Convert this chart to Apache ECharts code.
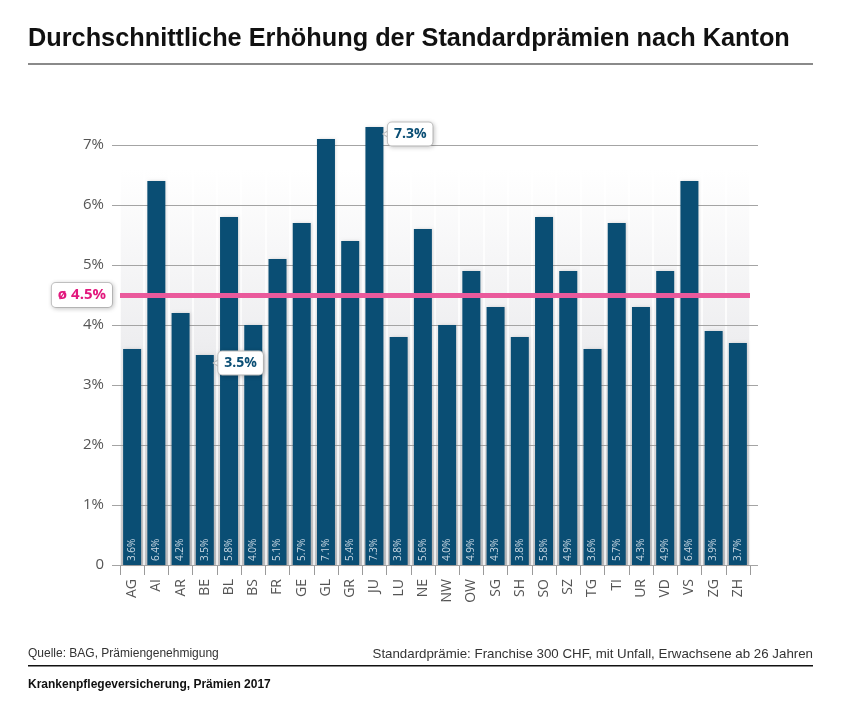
<!DOCTYPE html>
<html><head><meta charset="utf-8">
<script src="https://cdn.jsdelivr.net/npm/echarts@6/dist/echarts.min.js"></script>
<style>html,body{margin:0;padding:0;background:#fff}#c{width:844px;height:702px}</style>
</head><body><div id="c"></div>
<script>
const cantons = ['AG','AI','AR','BE','BL','BS','FR','GE','GL','GR','JU','LU','NE','NW','OW','SG','SH','SO','SZ','TG','TI','UR','VD','VS','ZG','ZH'];
const increase = [3.6,6.4,4.2,3.5,5.8,4.0,5.1,5.7,7.1,5.4,7.3,3.8,5.6,4.0,4.9,4.3,3.8,5.8,4.9,3.6,5.7,4.3,4.9,6.4,3.9,3.7];
const averageIncrease = 4.5;
const yMin = 0, yMax = 7, yStep = 1;
const barAxisMax = 7.5;

const titleText = 'Durchschnittliche Erhöhung der Standardprämien nach Kanton';
const sourceText = 'Quelle: BAG, Prämiengenehmigung';
const noteText = 'Standardprämie: Franchise 300 CHF, mit Unfall, Erwachsene ab 26 Jahren';
const footerText = 'Krankenpflegeversicherung, Prämien 2017';

const barColor = '#0a4e74';
const pink = '#ea5a9c';
const pinkText = '#e2187d';
const boxStyle = {
  backgroundColor: '#fff', borderColor: '#c8c8c8', borderWidth: 1, borderRadius: 4,
  padding: [5, 6, 4, 6], shadowBlur: 4, shadowColor: 'rgba(0,0,0,0.18)', shadowOffsetX: 1, shadowOffsetY: 1
};
const pct = v => v.toFixed(1) + '%';
const pointer = (type, dy) => ({type: type, symbol: 'triangle', symbolRotate: 90, symbolSize: [9, 7], symbolOffset: [12, dy],
  itemStyle: {color: '#fff', borderColor: '#c0c0c0', borderWidth: 1}, label: {show: false}});
const callout = (type, dy) => ({type: type, symbol: 'circle', symbolSize: 1, itemStyle: {color: 'rgba(0,0,0,0)'},
  label: Object.assign({show: true, position: 'right', distance: 13, offset: [0, dy], formatter: p => pct(p.value),
    fontFamily: 'Open Sans', fontWeight: 'bold', fontSize: 14, color: barColor}, boxStyle)});

const chart = echarts.init(document.getElementById('c'), null, {renderer: 'canvas'});
chart.setOption({
  animation: false,
  title: {
    text: titleText, left: 23, top: 22,
    textStyle: {fontFamily: 'Liberation Sans', fontWeight: 'bold', fontSize: 25.3, color: '#111'}
  },
  grid: [
    {left: 120, right: 94, top: 115, bottom: 137, show: true, borderWidth: 0,
     backgroundColor: new echarts.graphic.LinearGradient(0, 0, 0, 1, [
       {offset: 0, color: '#ffffff'}, {offset: 0.12, color: '#ffffff'}, {offset: 0.5, color: '#eeeef0'},
       {offset: 0.78, color: '#d8d8da'}, {offset: 1, color: '#c0c0c2'}])},
    {left: 112, right: 86, top: 145, bottom: 137}
  ],
  xAxis: [
    {type: 'category', gridIndex: 0, data: cantons, z: 1,
     axisLine: {show: false},
     axisTick: {show: true, length: 10, lineStyle: {color: '#9a9a9a'}},
     splitLine: {show: true, lineStyle: {color: '#ffffff', width: 1.5}},
     axisLabel: {rotate: 90, margin: 14, fontFamily: 'Open Sans', fontSize: 14, color: '#555'}},
    {type: 'value', gridIndex: 1, min: 0, max: 1, show: false}
  ],
  yAxis: [
    {type: 'value', gridIndex: 0, min: yMin, max: barAxisMax, show: false, splitLine: {show: false}},
    {type: 'value', gridIndex: 1, min: yMin, max: yMax, interval: yStep, z: 2,
     axisLine: {show: false}, axisTick: {show: false},
     splitLine: {show: true, lineStyle: {color: '#a4a4a4', width: 1}},
     axisLabel: {margin: 8, fontFamily: 'Open Sans', fontSize: 15, color: '#555',
       formatter: v => v === 0 ? '0' : v + '%'}}
  ],
  series: [{
    type: 'line', xAxisIndex: 0, yAxisIndex: 0, data: [], z: 0, silent: true,
    markLine: {
      silent: true, symbol: 'none', animation: false,
      lineStyle: {color: pink, width: 5, type: 'solid'},
      label: Object.assign({show: true, position: 'start', distance: 8, formatter: 'ø ' + pct(averageIncrease),
        fontFamily: 'Open Sans', fontWeight: 'bold', fontSize: 15, color: pinkText}, boxStyle),
      data: [{yAxis: averageIncrease}]
    }
  }, {
    type: 'bar', xAxisIndex: 0, yAxisIndex: 0, data: increase, barWidth: 18, z: 3,
    itemStyle: {color: barColor, shadowBlur: 3, shadowColor: 'rgba(0,0,0,0.15)', shadowOffsetX: 1},
    label: {show: true, position: 'insideBottom', rotate: 90, align: 'left', verticalAlign: 'middle',
      distance: 4, fontFamily: 'Open Sans', fontSize: 10, color: '#c8d7e2', formatter: p => pct(p.value)},
    markPoint: {
      silent: true, animation: false,
      data: [pointer('max', 7), pointer('min', 8), callout('max', 7), callout('min', 8)]
    }
  }],
  graphic: [
    {type: 'rect', shape: {x: 28, y: 63, width: 785, height: 2}, style: {fill: '#8a8a8a'}, silent: true},
    {type: 'text', left: 28, top: 648, style: {text: sourceText, font: '12px "Liberation Sans"', fill: '#333'}},
    {type: 'text', right: 31, top: 648, style: {text: noteText, font: '13.3px "Liberation Sans"', fill: '#333'}},
    {type: 'rect', shape: {x: 28, y: 665, width: 785, height: 1.5}, style: {fill: '#111'}, silent: true},
    {type: 'text', left: 28, top: 679, style: {text: footerText, font: 'bold 12px "Liberation Sans"', fill: '#111'}}
  ]
});
</script></body></html>
